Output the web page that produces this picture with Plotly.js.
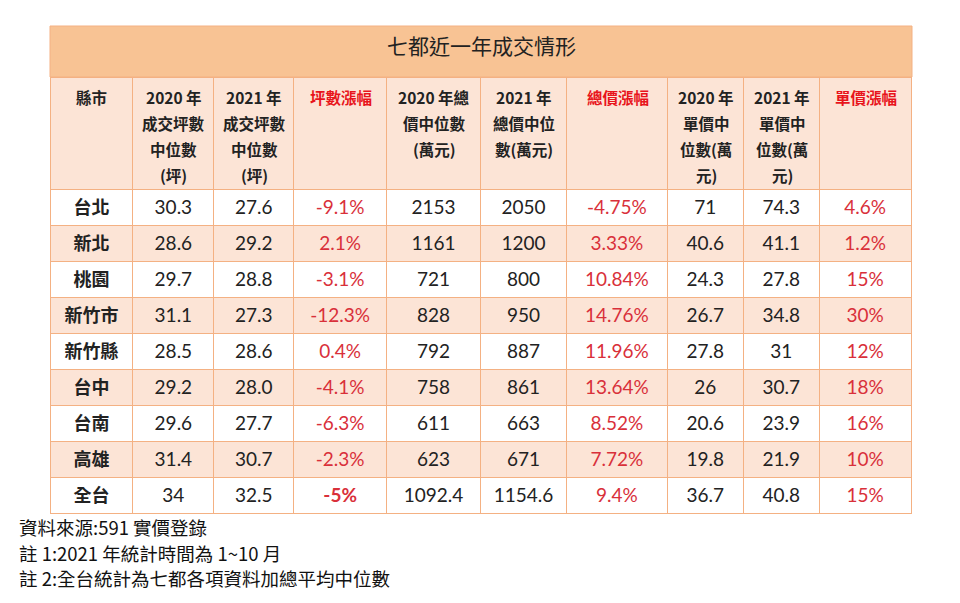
<!DOCTYPE html>
<html><head><meta charset="utf-8">
<script src="https://cdn.plot.ly/plotly-3.0.1.min.js"></script>
<style>html,body{margin:0;padding:0;background:#fff}#chart{width:960px;height:603px}
#chart .cell-text{translate:0 3px}</style>
</head><body><div id="chart"></div>
<script>
const title = "七都近一年成交情形";
const headers = ["縣市","2020 年<br>成交坪數<br>中位數<br>(坪)","2021 年<br>成交坪數<br>中位數<br>(坪)","坪數漲幅","2020 年總<br>價中位數<br>(萬元)","2021 年<br>總價中位<br>數(萬元)","總價漲幅","2020 年<br>單價中<br>位數(萬<br>元)","2021 年<br>單價中<br>位數(萬<br>元)","單價漲幅"];
const cities = ["台北","新北","桃園","新竹市","新竹縣","台中","台南","高雄","全台"];
const area2020 = ["30.3","28.6","29.7","31.1","28.5","29.2","29.6","31.4","34"];
const area2021 = ["27.6","29.2","28.8","27.3","28.6","28.0","27.7","30.7","32.5"];
const areaChg = ["-9.1%","2.1%","-3.1%","-12.3%","0.4%","-4.1%","-6.3%","-2.3%","-5%"];
const total2020 = ["2153","1161","721","828","792","758","611","623","1092.4"];
const total2021 = ["2050","1200","800","950","887","861","663","671","1154.6"];
const totalChg = ["-4.75%","3.33%","10.84%","14.76%","11.96%","13.64%","8.52%","7.72%","9.4%"];
const unit2020 = ["71","40.6","24.3","26.7","27.8","26","20.6","19.8","36.7"];
const unit2021 = ["74.3","41.1","27.8","34.8","31","30.7","23.9","21.9","40.8"];
const unitChg = ["4.6%","1.2%","15%","30%","12%","18%","16%","10%","15%"];
const notes = ["資料來源:591 實價登錄","註 1:2021 年統計時間為 1~10 月","註 2:全台統計為七都各項資料加總平均中位數"];

const W = 960, H = 603;
const colX = [50,133,214,294,387,481,567,668,744,820,912];
const widths = colX.slice(1).map((x,i)=>x-colX[i]);
const tTop = 26, hTop = 77;
const PEACH = "#FCE4D6", BAND = "#F8C394", LINE = "#F4B183", RED = "#D9303A";
const n = cities.length;
const rowFill = cities.map((_,i)=> i%2===0 ? "#FFFFFF" : PEACH);
const redCols = [3,6,9];
const cols = [cities, area2020, area2021, areaChg, total2020, total2021, totalChg, unit2020, unit2021, unitChg];
const fontColors = cols.map((c,j)=> c.map(()=> redCols.includes(j) ? RED : "#222222"));
const fontWeights = cols.map((c,j)=> c.map((_,i)=> (j===0 || (j===3 && i===n-1)) ? "bold" : "normal"));
const fontFamilies = cols.map((c,j)=> c.map(()=> j===0 ? "Noto Sans CJK TC, sans-serif" : "Lato, Noto Sans CJK TC, sans-serif"));
const fontSizes = cols.map((c,j)=> c.map(()=> j===0 ? 18 : 19));

const trace = {
  type: "table",
  domain: {x: [colX[0]/W, colX[10]/W], y: [0, 1 - hTop/H]},
  columnwidth: widths,
  header: {
    values: headers.map(()=>""),
    height: 112,
    align: "center",
    fill: {color: PEACH},
    line: {color: LINE, width: 1},
    font: {size: 14}
  },
  cells: {
    values: cols,
    height: 36,
    align: "center",
    fill: {color: cols.map(()=>rowFill)},
    line: {color: LINE, width: 1},
    font: {family: fontFamilies, size: fontSizes, color: fontColors, weight: fontWeights}
  }
};

const annotations = [{
  text: title, xref: "paper", yref: "paper", x: 481/W, y: 1 - 45/H,
  showarrow: false, xanchor: "center", yanchor: "middle",
  font: {family: "Noto Sans CJK TC, serif", size: 21, color: "#222222"}
}];
headers.forEach((h,j)=>{
  h.split("<br>").forEach((line,k)=>{
    annotations.push({
      text: line, xref: "paper", yref: "paper",
      x: (colX[j]+colX[j+1])/2/W, y: 1 - (97 + 26*k)/H,
      showarrow: false, xanchor: "center", yanchor: "middle",
      font: {family: "Noto Sans CJK TC, sans-serif", size: 15.5, weight: "bold",
             color: redCols.includes(j) ? "#E8141C" : "#222222"}
    });
  });
});
notes.forEach((t,i)=>{
  annotations.push({
    text: t, xref: "paper", yref: "paper", x: 17/W, y: 1 - [527,553,578][i]/H,
    showarrow: false, xanchor: "left", yanchor: "middle",
    font: {family: "Noto Sans CJK TC, sans-serif", size: 18.5, color: "#111111"}
  });
});

const layout = {
  width: W, height: H,
  margin: {l: 0, r: 0, t: 0, b: 0},
  paper_bgcolor: "#FFFFFF",
  showlegend: false,
  shapes: [{type: "rect", xref: "paper", yref: "paper",
    x0: colX[0]/W, x1: colX[10]/W, y0: 1 - hTop/H, y1: 1 - tTop/H,
    fillcolor: BAND, line: {color: LINE, width: 1}, layer: "below"}],
  annotations: annotations
};
Plotly.newPlot("chart", [trace], layout, {displayModeBar: false, staticPlot: true});
</script></body></html>
